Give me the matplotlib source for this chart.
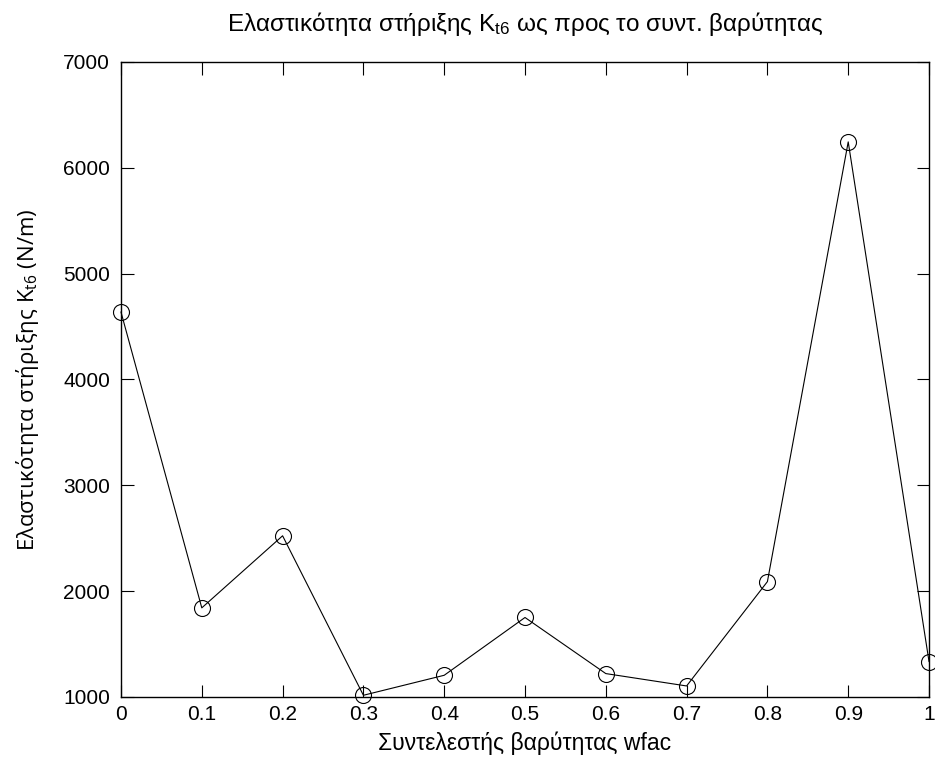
import matplotlib
matplotlib.use("Agg")
import matplotlib.pyplot as plt

# weighting factor vs. support stiffness
wfac = [0.0, 0.1, 0.2, 0.3, 0.4, 0.5, 0.6, 0.7, 0.8, 0.9, 1.0]
k_t6 = [4637, 1842, 2523, 1016, 1205, 1751, 1221, 1104, 2090, 6245, 1335]

x_ticks = [0, 0.1, 0.2, 0.3, 0.4, 0.5, 0.6, 0.7, 0.8, 0.9, 1]
x_tick_labels = ["0", "0.1", "0.2", "0.3", "0.4", "0.5", "0.6", "0.7", "0.8", "0.9", "1"]
y_ticks = [1000, 2000, 3000, 4000, 5000, 6000, 7000]

plt.rcParams["font.family"] = ["Liberation Sans", "DejaVu Sans"]

fig = plt.figure(figsize=(9.35, 7.67), dpi=100)
ax = fig.add_axes([0.1294, 0.0913, 0.8642, 0.8279])

ax.plot(wfac, k_t6, color="black", linewidth=0.8, marker="o", markersize=11.5,
        markerfacecolor="none", markeredgecolor="black", markeredgewidth=0.8,
        clip_on=False, zorder=3)

ax.set_xlim(0, 1)
ax.set_ylim(1000, 7000)
ax.set_xticks(x_ticks)
ax.set_xticklabels(x_tick_labels)
ax.set_yticks(y_ticks)
ax.tick_params(direction="in", length=9, width=0.8, top=True, right=True,
               labelsize=15, pad=6)
ax.tick_params(axis="y", pad=8)
for s in ax.spines.values():
    s.set_linewidth(1.0)

ax.set_title(r"Ελαστικότητα στήριξης $\mathregular{K_{t6}}$ ως προς το συντ. βαρύτητας",
             fontsize=17.5, pad=22)
ax.set_xlabel("Συντελεστής βαρύτητας wfac", fontsize=16.5, labelpad=5)
ax.set_ylabel(r"Ελαστικότητα στήριξης $\mathregular{K_{t6}}$ (N/m)", fontsize=16,
              family=["Open Sans", "DejaVu Sans"], labelpad=16)

fig.savefig("out.png", dpi=100)
